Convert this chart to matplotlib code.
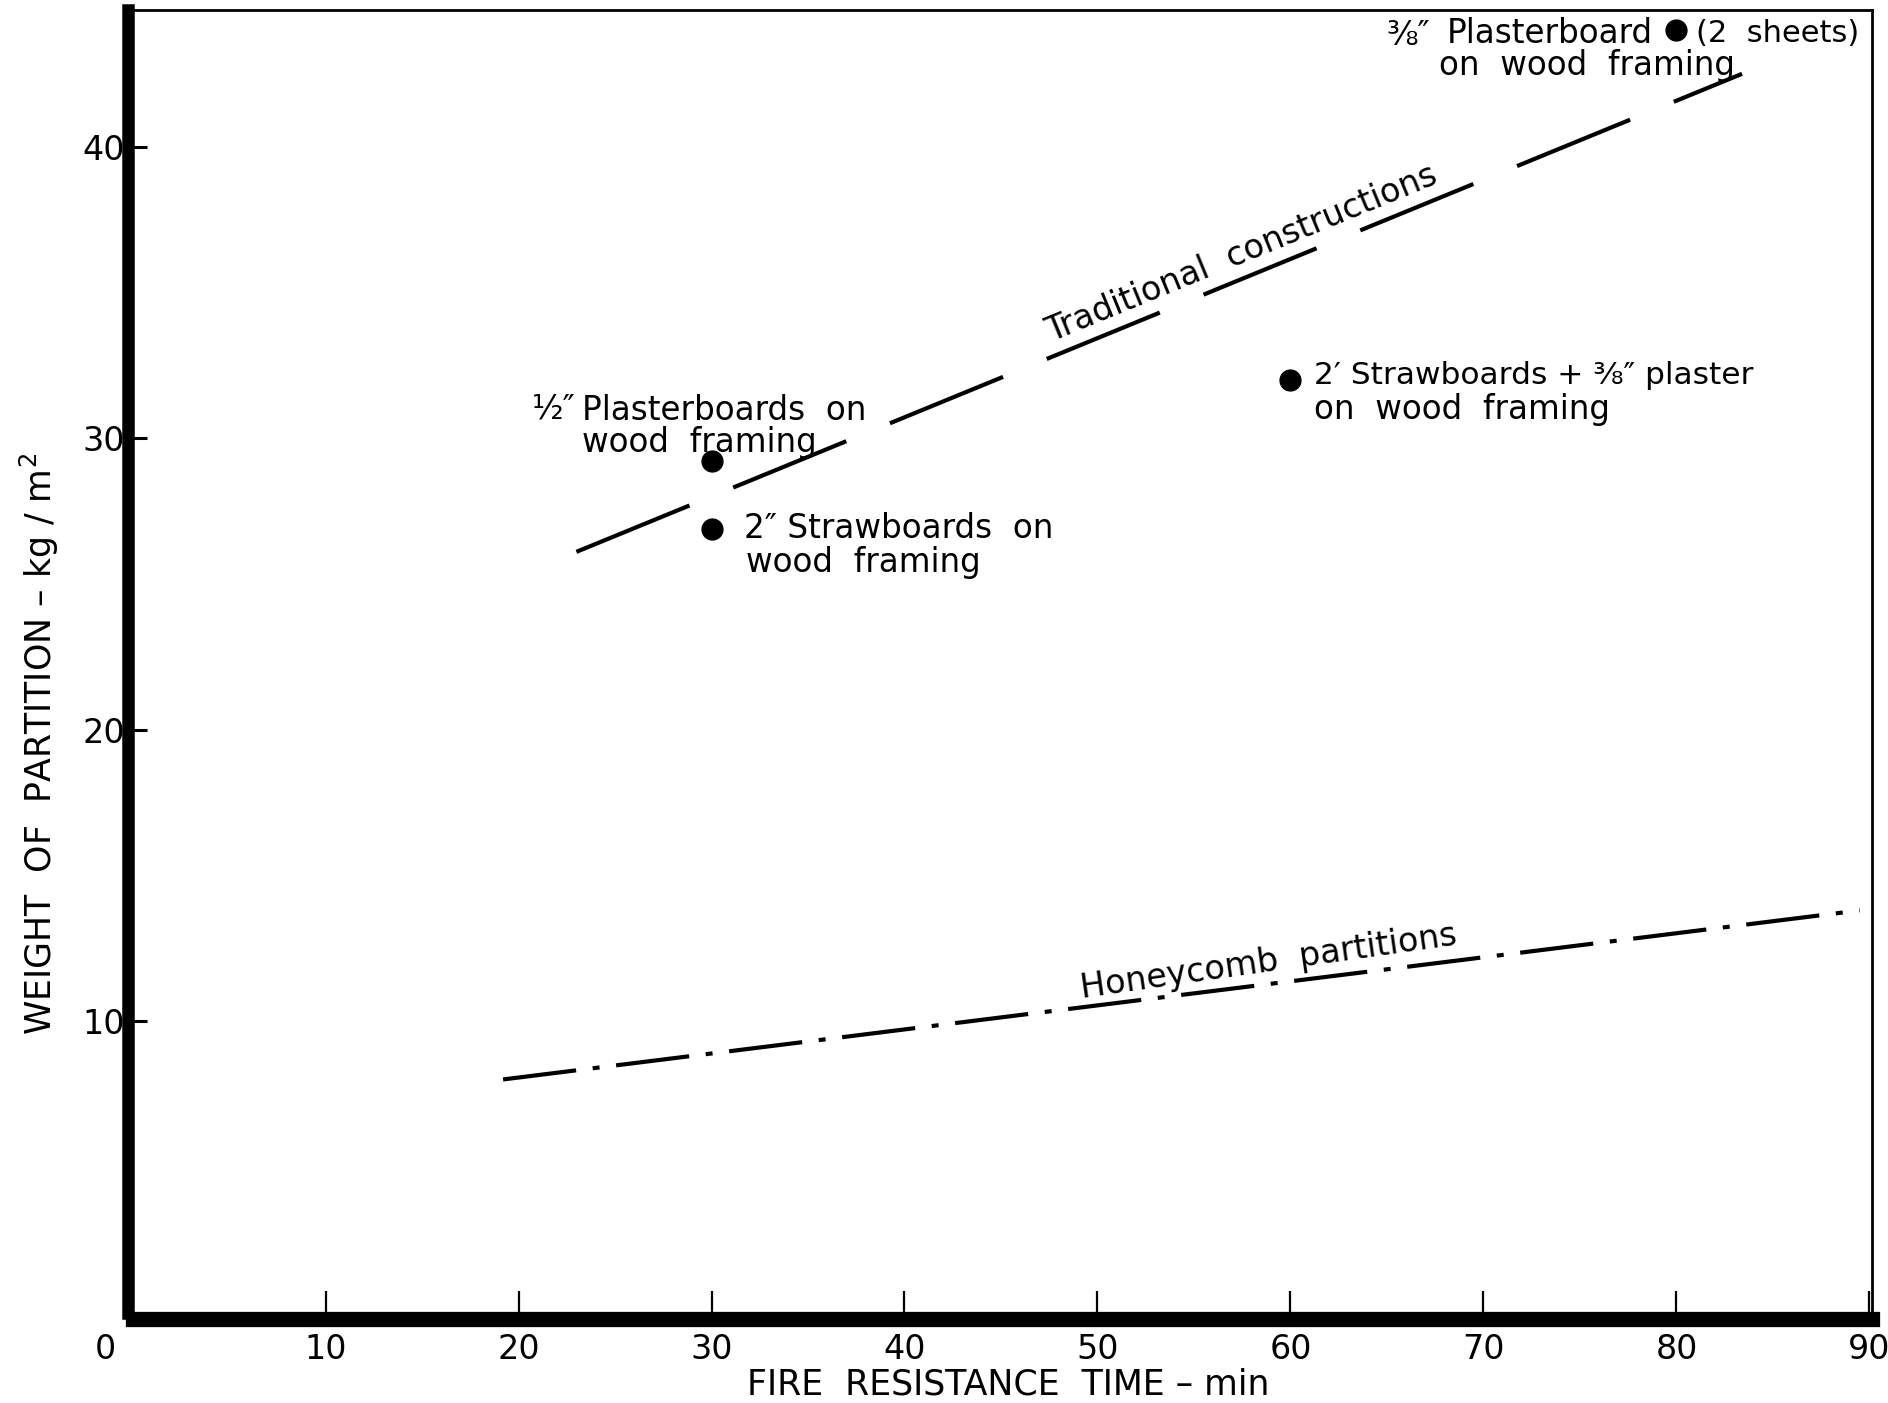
import numpy as np
import matplotlib
matplotlib.use("Agg")
import matplotlib.pyplot as plt
import matplotlib.transforms as mtransforms

plt.rcParams['font.family'] = ['DejaVu Sans']
plt.rcParams['lines.scale_dashes'] = False

# measured points (fire resistance time in min, weight in kg/m2)
point_time = [30, 30, 60, 80]
point_weight = [29.2, 26.9, 32.0, 44.0]

# trend lines, end points
trad_time = [23.0, 83.4]
trad_weight = [26.1, 42.5]
honey_time = [19.2, 89.5]
honey_weight = [8.0, 13.8]

x_ticks = [0, 10, 20, 30, 40, 50, 60, 70, 80, 90]
y_ticks = [10, 20, 30, 40]

fig = plt.figure(figsize=(18.88, 14.03), dpi=100)
ax = fig.add_axes([0.0702, 0.0644, 0.9215, 0.9287])
ax.set_xlim(0, 90.15)
ax.set_ylim(0, 44.7)

# spines: heavy left/bottom, thin top/right
ax.spines['left'].set_linewidth(9)
ax.spines['bottom'].set_linewidth(11)
ax.spines['left'].set_position(('outward', 3.5))
ax.spines['bottom'].set_position(('outward', 4.5))
ax.spines['top'].set_linewidth(2)
ax.spines['right'].set_linewidth(2)

ax.set_xticks(x_ticks)
ax.set_yticks(y_ticks)
ax.tick_params(axis='x', direction='in', length=20, width=1.6, pad=10, labelsize=24)
ax.tick_params(axis='y', direction='in', length=14, width=2.2, pad=2, labelsize=24)
ax.xaxis.get_major_ticks()[0].tick1line.set_visible(False)
lab0 = ax.get_xticklabels()[0]
lab0.set_transform(lab0.get_transform() + mtransforms.ScaledTranslation(-27 / 100, 0, fig.dpi_scale_trans))

# lines
ax.plot(trad_time, trad_weight, color='black', lw=3, dashes=(88, 34), solid_capstyle='butt')
ax.plot(honey_time, honey_weight, color='black', lw=3, dashes=(53, 12, 5, 12), solid_capstyle='butt')

# points
ax.plot(point_time, point_weight, 'o', color='black', markersize=15)


def line_angle(xs, ys):
    p = ax.transData.transform(list(zip(xs, ys)))
    return np.degrees(np.arctan2(p[1][1] - p[0][1], p[1][0] - p[0][0]))


def on_line(xs, ys, x):
    return ys[0] + (ys[1] - ys[0]) * (x - xs[0]) / (xs[1] - xs[0])


a_trad = line_angle(trad_time, trad_weight)
a_honey = line_angle(honey_time, honey_weight)
ax.text(57.8, on_line(trad_time, trad_weight, 57.8) + 0.25, 'Traditional  constructions',
        rotation=a_trad, rotation_mode='anchor', ha='center', va='bottom', fontsize=24)
ax.text(59.0, on_line(honey_time, honey_weight, 59.0) + 0.2, 'Honeycomb  partitions',
        rotation=a_honey + 1, rotation_mode='anchor', ha='center', va='bottom', fontsize=24)

fs = 23.5
ax.text(21.8, 31.0, '½″', fontsize=fs, ha='center', va='center')
ax.text(23.3, 30.95, 'Plasterboards  on', fontsize=fs, va='center')
ax.text(23.3, 29.85, 'wood  framing', fontsize=fs, va='center')

ax.text(31.7, 26.9, '2″ Strawboards  on', fontsize=fs, va='center')
ax.text(31.8, 25.74, 'wood  framing', fontsize=fs, va='center')

ax.text(61.2, 32.15, '2′ Strawboards + ⅜″ plaster', fontsize=22.5, va='center')
ax.text(61.2, 30.99, 'on  wood  framing', fontsize=fs, va='center')

ax.text(65.0, 43.8, '⅜″', fontsize=fs, va='center')
ax.text(78.8, 43.88, 'Plasterboard', fontsize=fs, ha='right', va='center')
ax.text(81.0, 43.88, '(2  sheets)', fontsize=22, va='center')
ax.text(67.7, 42.77, 'on  wood  framing', fontsize=fs, va='center')

fig.text(0.534, 0.0129, 'FIRE  RESISTANCE  TIME – min', fontsize=25, ha='center', va='center')
fig.text(0.021, 0.47, 'WEIGHT  OF  PARTITION – kg / m$^2$', fontsize=25, ha='center', va='center',
         rotation=90)

fig.savefig('out.png', dpi=100)
